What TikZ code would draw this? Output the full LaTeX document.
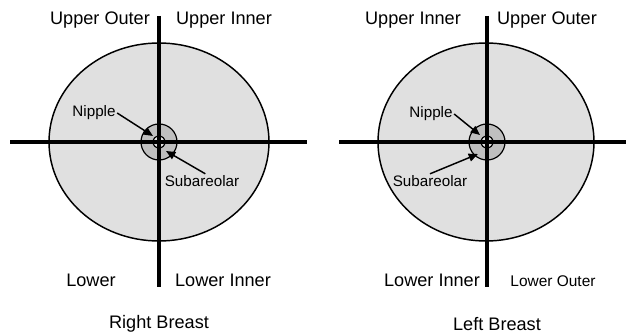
\documentclass[tikz,border=0pt]{standalone}
\usepackage{fontspec}
\setmainfont{Liberation Sans}
\usetikzlibrary{arrows.meta, positioning}
\definecolor{breastgrey}{HTML}{E0E0E0}
\definecolor{areolagrey}{HTML}{BFBFBF}
\tikzset{
  breast/.style={draw=black, line width=1.1pt, fill=breastgrey},
  areola/.style={circle, draw=black, line width=0.9pt, fill=areolagrey,
    minimum size=27pt, inner sep=0pt},
  nipple/.style={circle, draw=black, line width=0.9pt, fill=breastgrey,
    minimum size=9pt, inner sep=0pt},
  axisline/.style={line width=3pt, black},
  quad/.style={font=\fontsize{13.6}{16}\selectfont, inner sep=0pt},
  quadsmall/.style={font=\fontsize{11.6}{14}\selectfont, inner sep=0pt},
  lbl/.style={font=\fontsize{11.4}{14}\selectfont, inner sep=1pt},
  pointer/.style={-{Triangle[length=7pt, width=6pt]}, line width=1.1pt},
}

\begin{document}
\begin{tikzpicture}[x=0.75pt, y=-0.75pt]
\useasboundingbox (0,0) rectangle (626,335);

% right breast
\draw[breast] (159,142) ellipse [x radius=110, y radius=99];
\node[areola] (rareola) at (159,142) {};
\node[nipple] (rnipple) at (159,142) {};
\coordinate (rvtop) at (159,16);
\coordinate (rvbot) at (159,287);
\coordinate (rhleft) at (10,142);
\coordinate (rhright) at (307,142);
\draw[axisline] (rvtop) -- (rvbot);
\draw[axisline] (rhleft) -- (rhright);

\node[quad] (rUO) at (100,20) {Upper Outer};
\node[quad] (rUI) at (224,20) {Upper Inner};
\node[quad] (rLO) at (91,280) {Lower};
\node[quad] (rLI) at (223,280) {Lower Inner};
\node[quad] (rtitle) at (159,324) {Right Breast};

\node[lbl] (rnip) at (94,113) {Nipple};
\node[lbl] (rsub) at (202,181) {Subareolar};
\coordinate (rniptip) at (153,136);
\coordinate (rsubtip) at (166,151);
\draw[pointer] (rnip.east) -- (rniptip);
\draw[pointer] (rsub.65) -- (rsubtip);

% left breast
\draw[breast] (486,142) ellipse [x radius=108, y radius=99];
\node[areola] (lareola) at (487,142) {};
\node[nipple] (lnipple) at (487,142) {};
\coordinate (lvtop) at (487,16);
\coordinate (lvbot) at (487,287);
\coordinate (lhleft) at (339,142);
\coordinate (lhright) at (626,142);
\draw[axisline] (lvtop) -- (lvbot);
\draw[axisline] (lhleft) -- (lhright);

\node[quad] (lUI) at (413,20) {Upper Inner};
\node[quad] (lUO) at (547,20) {Upper Outer};
\node[quad] (lLI) at (432,280) {Lower Inner};
\node[quadsmall] (lLO) at (553,281) {Lower Outer};
\node[quad] (ltitle) at (497,324) {Left Breast};

\node[lbl] (lnip) at (431,114) {Nipple};
\node[lbl] (lsub) at (430,181) {Subareolar};
\coordinate (lniptip) at (480,135);
\coordinate (lsubtip) at (478,154);
\draw[pointer] (lnip.east) -- (lniptip);
\draw[pointer] (lsub.north) -- (lsubtip);
\end{tikzpicture}
\end{document}
